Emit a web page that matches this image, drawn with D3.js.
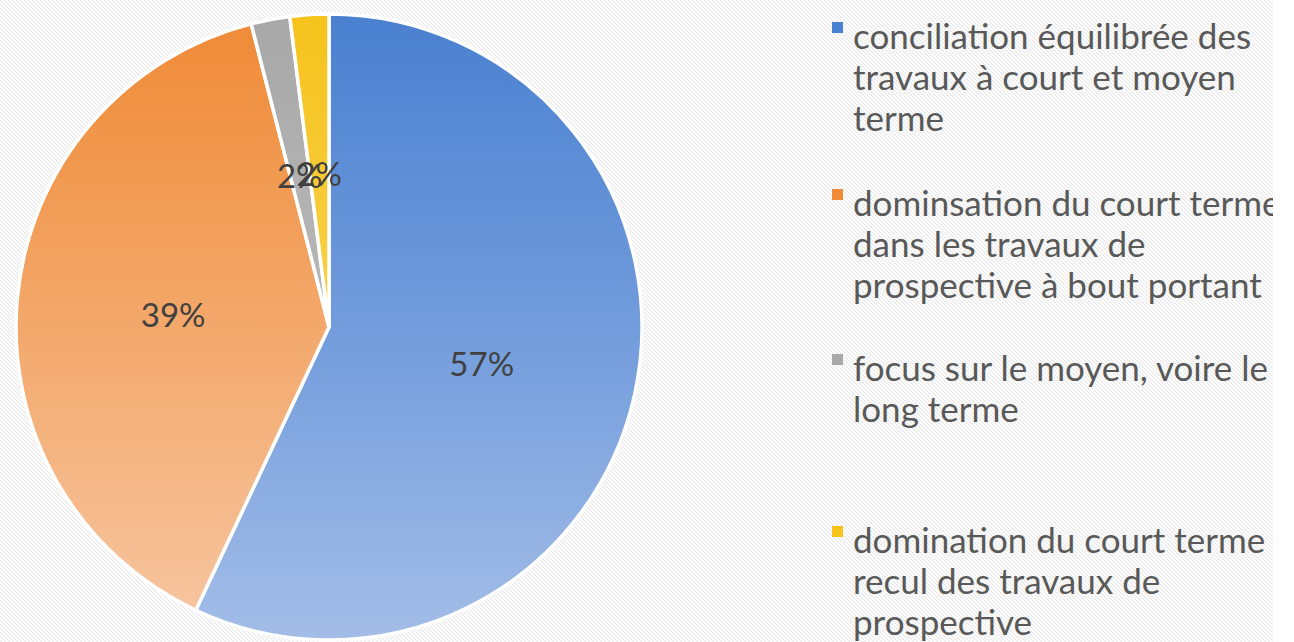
<!DOCTYPE html>
<html>
<head>
<meta charset="utf-8">
<script src="https://cdn.jsdelivr.net/npm/d3@7"></script>
<style>
  body { margin: 0; background: #fff; }
  svg { display: block; }
</style>
</head>
<body>
<div id="chart"></div>
<script>
const width = 1294
const height = 642

// share of answers, in the legend order
const categories = [
    'conciliation équilibrée des travaux à court et moyen terme',
    'dominsation du court terme dans les travaux de prospective à bout portant',
    'focus sur le moyen, voire le long terme',
    'domination du court terme recul des travaux de prospective'
]
const values = [57, 39, 2, 2]
// legend text as it wraps in the picture
const legendLines = [
    ['conciliation équilibrée des', 'travaux à court et moyen', 'terme'],
    ['dominsation du court terme', 'dans les travaux de', 'prospective à bout portant'],
    ['focus sur le moyen, voire le', 'long terme'],
    ['domination du court terme', 'recul des travaux de', 'prospective']
]

// gradient colours per slice: top, middle, bottom
const colors = [
    ['#4a80d0', '#729cdc', '#a3bde7'],
    ['#ef8a36', '#f3a86b', '#f7c7a3'],
    ['#a8a8a8', '#b8b8b8', '#c8c8c8'],
    ['#f6c31c', '#f8d04a', '#fadd7a']
]

const cx = 329, cy = 327, radius = 313
const legendTop = [49, 216, 381, 553]   // first baseline of each legend entry
const lineHeight = 41

const svg = d3.select('#chart')
    .append('svg')
    .attr('width', width)
    .attr('height', height)

const defs = svg.append('defs')

// faint diagonal hatch of the slide background
const hatch = defs.append('pattern')
    .attr('id', 'hatch')
    .attr('patternUnits', 'userSpaceOnUse')
    .attr('width', 4)
    .attr('height', 4)
hatch.append('rect').attr('width', 4).attr('height', 4).attr('fill', '#fbfbfb')
hatch.append('path')
    .attr('d', 'M-1,-1 L5,5 M-1,3 L1,5 M3,-1 L5,1')
    .attr('stroke', '#e6e6e6')
    .attr('stroke-width', 1)

defs.append('clipPath').attr('id', 'slide')
    .append('rect').attr('width', 1273).attr('height', height)

svg.append('rect')
    .attr('width', width).attr('height', height)
    .attr('fill', '#fff')
svg.append('rect')
    .attr('width', 1273).attr('height', height)
    .attr('fill', 'url(#hatch)')

// gradients live in the pie group's coordinates (centre at 0,0)
colors.forEach((c, i) => {
    const lg = defs.append('linearGradient')
        .attr('id', 'grad' + i)
        .attr('gradientUnits', 'userSpaceOnUse')
        .attr('x1', 0).attr('y1', -radius)
        .attr('x2', 0).attr('y2', radius)
    lg.selectAll('stop')
        .data(c)
        .join('stop')
        .attr('offset', (d, j) => (j * 50) + '%')
        .attr('stop-color', d => d)
})

const data = categories.map((c, i) => ({ category: c, value: values[i], index: i }))

const pie = d3.pie()
    .value(d => d.value)
    .sort(null)
const arcs = pie(data)

const arc = d3.arc().innerRadius(0).outerRadius(radius)
const labelArc = d3.arc().innerRadius(radius * 0.5).outerRadius(radius * 0.5)

const g = svg.append('g')
    .attr('transform', `translate(${cx}, ${cy})`)

g.selectAll('path')
    .data(arcs)
    .join('path')
    .attr('d', arc)
    .attr('fill', d => `url(#grad${d.data.index})`)
    .attr('stroke', '#fff')
    .attr('stroke-width', 3.5)
    .attr('stroke-linejoin', 'round')

g.selectAll('text')
    .data(arcs)
    .join('text')
    .attr('transform', d => `translate(${labelArc.centroid(d)})`)
    .attr('text-anchor', 'middle')
    .attr('dy', '0.45em')
    .attr('font-family', 'Lato, sans-serif')
    .attr('font-size', 33)
    .attr('fill', '#404040')
    .text(d => d.data.value + '%')

// legend
const legend = svg.append('g')
    .attr('clip-path', 'url(#slide)')

const items = legend.selectAll('g')
    .data(data)
    .join('g')
    .attr('transform', d => `translate(0, ${legendTop[d.index]})`)

items.append('rect')
    .attr('x', 832)
    .attr('y', -27)
    .attr('width', 11)
    .attr('height', 11)
    .attr('fill', d => colors[d.index][0])

items.append('text')
    .attr('x', 853)
    .attr('font-family', 'Lato, sans-serif')
    .attr('font-size', 35)
    .attr('fill', '#595959')
    .selectAll('tspan')
    .data(d => legendLines[d.index])
    .join('tspan')
    .attr('x', 853)
    .attr('y', (d, i) => i * lineHeight)
    .text(d => d)
</script>
</body>
</html>
